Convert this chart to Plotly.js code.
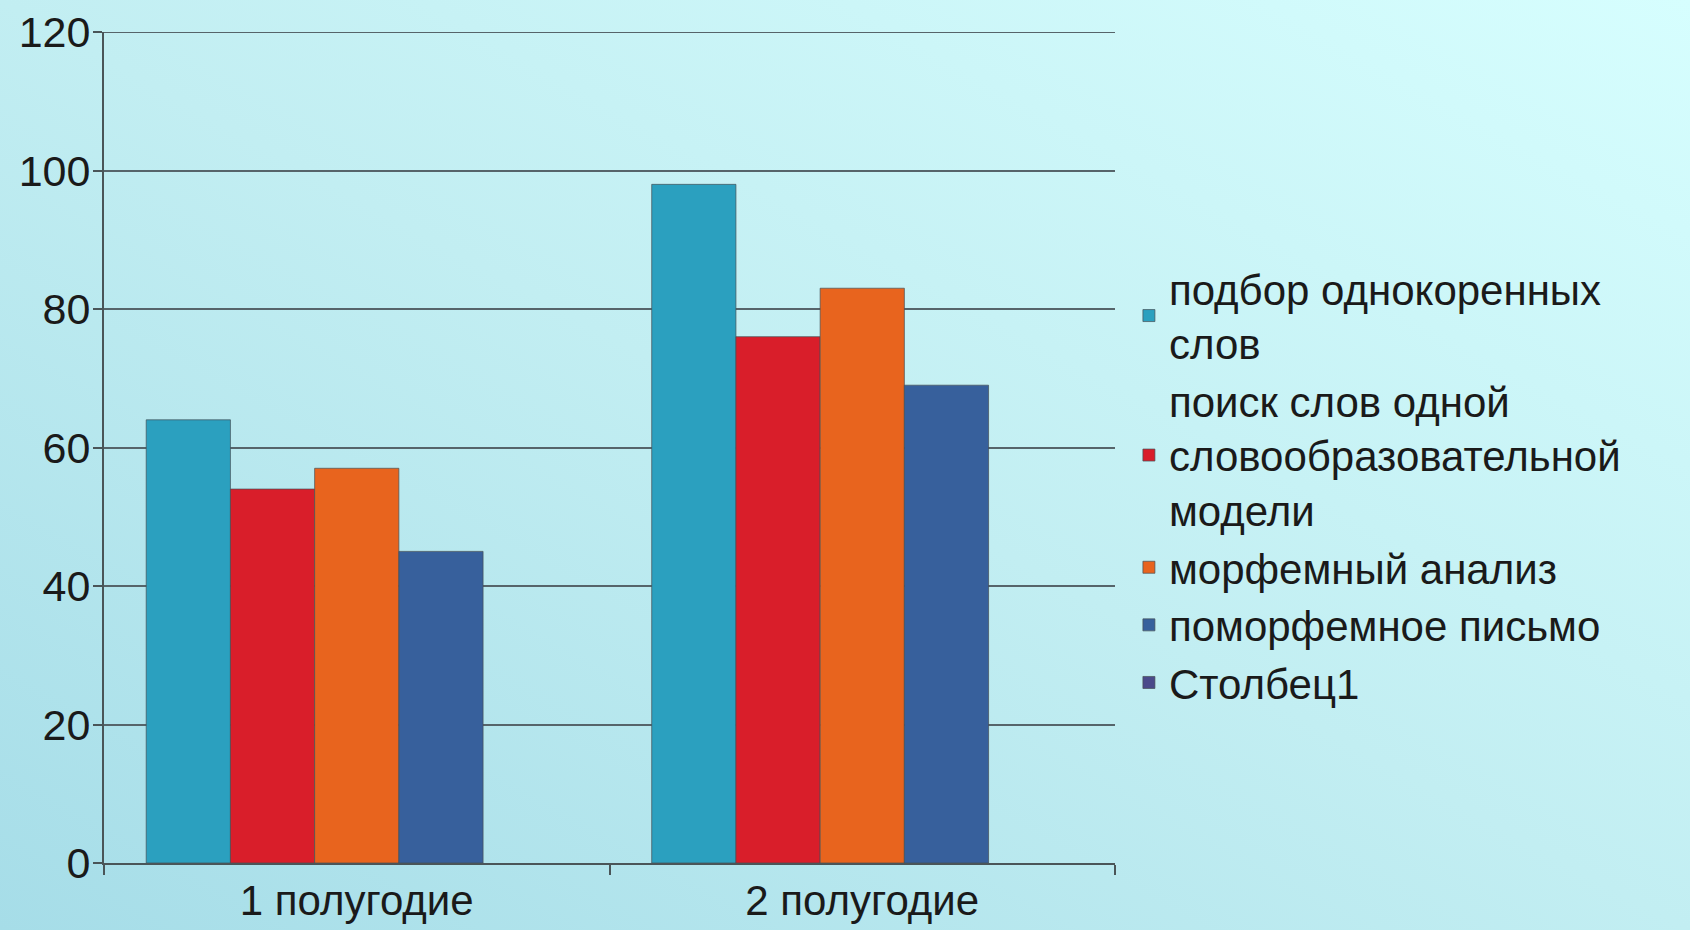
<!DOCTYPE html>
<html>
<head>
<meta charset="utf-8">
<script src="https://cdn.plot.ly/plotly-3.0.1.min.js"></script>
<style>
  html, body { margin: 0; padding: 0; width: 1690px; height: 930px; overflow: hidden; }
  body { background: linear-gradient(to top right, #a6dde8 0%, #c2eef2 50%, #d6fefe 100%); }
  #chart { width: 1690px; height: 930px; }
</style>
</head>
<body>
<div id="chart"></div>
<script>
const categories = ['1 полугодие', '2 полугодие'];
const seriesNames = [
  'подбор однокоренных<br>слов',
  'поиск слов одной<br>словообразовательной<br>модели',
  'морфемный анализ',
  'поморфемное письмо',
  'Столбец1'
];
const podbor = [64, 98];
const poisk = [54, 76];
const morfAnaliz = [57, 83];
const pomorfPismo = [45, 69];
const stolbec1 = [null, null];
const seriesValues = [podbor, poisk, morfAnaliz, pomorfPismo, stolbec1];
const yTicks = [0, 20, 40, 60, 80, 100, 120];
const colors = ['#2ba0bf', '#d91e2a', '#e8641e', '#37609c', '#4a4a8a'];

const traces = seriesValues.map((vals, i) => ({
  type: 'bar',
  name: seriesNames[i],
  x: categories,
  y: vals,
  marker: { color: colors[i], line: { color: 'rgba(70,80,85,0.7)', width: 1 } },
  hoverinfo: 'none'
}));

const fam = '"Liberation Sans", Arial, sans-serif';

const layout = {
  width: 1690,
  height: 930,
  margin: { l: 104, r: 575, t: 32, b: 67 },
  paper_bgcolor: 'rgba(0,0,0,0)',
  plot_bgcolor: 'rgba(0,0,0,0)',
  font: { family: fam, size: 42, color: '#1a1a1a' },
  barmode: 'group',
  bargap: 0.167,
  bargroupgap: 0,
  showlegend: true,
  legend: {
    xref: 'container', yref: 'container',
    x: 0.668, y: 0.478, xanchor: 'left', yanchor: 'middle',
    bgcolor: 'rgba(0,0,0,0)',
    font: { family: fam, size: 42, color: '#1a1a1a' },
    tracegroupgap: 0,
    itemclick: false
  },
  xaxis: {
    type: 'category',
    showline: true, linecolor: '#4a5558', linewidth: 2,
    ticks: 'outside', tickson: 'boundaries', ticklen: 10, tickwidth: 2, tickcolor: '#4a5558',
    showgrid: false, zeroline: false,
    tickfont: { family: fam, size: 42, color: '#1a1a1a' }
  },
  yaxis: {
    range: [0, 120],
    tickvals: yTicks,
    showline: true, linecolor: '#4a5558', linewidth: 2,
    ticks: 'outside', ticklen: 9, tickwidth: 2, tickcolor: '#4a5558',
    showgrid: true, gridcolor: '#56646a', gridwidth: 2,
    zeroline: false,
    ticklabelstandoff: -6,
    tickfont: { family: fam, size: 43, color: '#1a1a1a' }
  },
  shapes: [{
    type: 'line', xref: 'paper', yref: 'y', x0: 0, x1: 1, y0: 120, y1: 120,
    line: { color: '#56646a', width: 2 }, layer: 'below'
  }]
};

Plotly.newPlot('chart', traces, layout, { staticPlot: true, displayModeBar: false });
</script>
</body>
</html>
